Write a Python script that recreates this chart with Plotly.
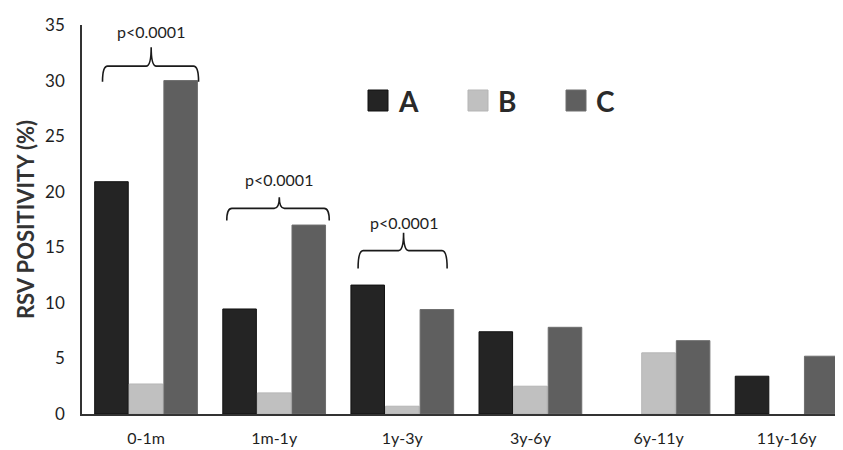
import plotly.graph_objects as go

categories = ["0-1m", "1m-1y", "1y-3y", "3y-6y", "6y-11y", "11y-16y"]
series_names = ["A", "B", "C"]
values_a = [20.9, 9.45, 11.6, 7.4, None, 3.4]
values_b = [2.7, 1.9, 0.7, 2.5, 5.5, None]
values_c = [30.0, 17.0, 9.4, 7.8, 6.6, 5.2]
y_ticks = [0, 5, 10, 15, 20, 25, 30, 35]
p_labels = ["p<0.0001", "p<0.0001", "p<0.0001"]
brace_groups = [0, 1, 2]

fill_colors = ["#242424", "#c0c0c0", "#5f5f5f"]
line_colors = ["#111111", "#b5b5b5", "#6e6e6e"]
FONT = "Lato, 'Open Sans', sans-serif"
TXT = "#1e1e1e"

xs = list(range(len(categories)))
fig = go.Figure()
for name, vals, fc, lc in zip(series_names, [values_a, values_b, values_c], fill_colors, line_colors):
    fig.add_trace(go.Bar(x=xs, y=vals, name=name, marker=dict(color=fc, line=dict(color=lc, width=1)),
                         showlegend=False))

# Braces (layout geometry for annotations)
brace_left = [-0.34, -0.37, -0.345]
brace_right = [0.41, 0.43, 0.35]
brace_center = [0.04, 0.04, 0.01]
brace_tip_y = [29.9, 17.4, 13.1]
brace_mid_y = [31.3, 18.5, 14.7]
brace_top_y = [33.0, 19.5, 16.3]
text_y = [34.4, 21.1, 17.2]

for g, lbl, l, r, c, yt, yh, ytop, ty in zip(brace_groups, p_labels, brace_left, brace_right,
                                             brace_center, brace_tip_y, brace_mid_y, brace_top_y, text_y):
    xl, xr, xc = g + l, g + r, g + c
    dx = 0.04
    path = (f"M {xl},{yt} Q {xl},{yh} {xl+dx},{yh} L {xc-dx},{yh} Q {xc},{yh} {xc},{ytop} "
            f"M {xc},{ytop} Q {xc},{yh} {xc+dx},{yh} L {xr-dx},{yh} Q {xr},{yh} {xr},{yt}")
    fig.add_shape(type="path", path=path, xref="x", yref="y",
                  line=dict(color="#1a1a1a", width=1.6))
    fig.add_annotation(x=xc, y=ty, xref="x", yref="y", text=lbl, showarrow=False,
                       font=dict(family=FONT, size=16, color=TXT))

# Page geometry (page body has an 8px margin)
OFF = 8
W, H = 843 - OFF, 450 - OFF
L, T, AXB = 82 - OFF, 25 - OFF, 414 - OFF
pw, ph = W - L, AXB - T
def px(xp):
    return (xp - OFF - L) / pw
def py(yp):
    return (AXB - (yp - OFF)) / ph

# Custom legend with large squares
legend_sq_x = [368, 468, 566]
for name, fc, lc, sx in zip(series_names, fill_colors, line_colors, legend_sq_x):
    fig.add_shape(type="rect", xref="paper", yref="paper",
                  x0=px(sx), x1=px(sx + 20), y0=py(111), y1=py(90),
                  fillcolor=fc, line=dict(color=lc, width=1))
    fig.add_annotation(xref="paper", yref="paper", x=px(sx + 28), y=py(101), text=f"<b>{name}</b>",
                       showarrow=False, xanchor="left", yanchor="middle",
                       font=dict(family=FONT, size=28, color="#2a2a2a"))

fig.update_layout(
    width=W, height=H,
    margin=dict(l=L, r=0, t=T, b=H - AXB),
    plot_bgcolor="white", paper_bgcolor="white",
    barmode="group", bargap=0.19, bargroupgap=0.03,
    font=dict(family=FONT, color=TXT),
)
fig.update_xaxes(
    range=[-0.5, 5.44], tickvals=xs, ticktext=categories,
    showline=True, linecolor="#333333", linewidth=1.5,
    showgrid=False, zeroline=False, ticks="", ticklabelstandoff=9,
    tickfont=dict(family=FONT, size=16, color=TXT),
)
fig.update_yaxes(
    range=[0, 35], tickvals=y_ticks,
    showline=True, linecolor="#333333", linewidth=1.5,
    showgrid=False, zeroline=False, ticks="", ticklabelstandoff=12,
    tickfont=dict(family=FONT, size=17, color=TXT),
    title=dict(text="<b>RSV POSITIVITY (%)</b>", standoff=4,
               font=dict(family=FONT, size=22, color="#333333")),
)

fig.write_html("out.html")
